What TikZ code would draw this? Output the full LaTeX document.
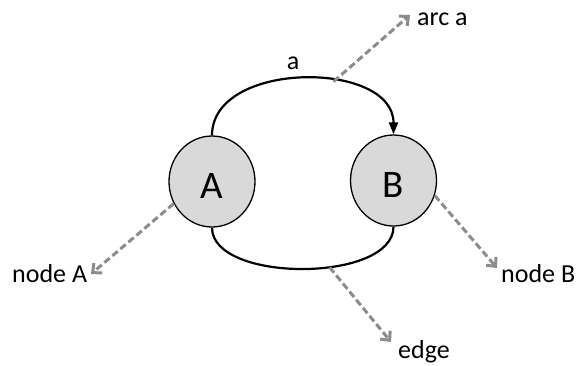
\documentclass[tikz,border=0pt]{standalone}
\usepackage{fontspec}
\setmainfont{Carlito}
\usetikzlibrary{arrows.meta,shapes.geometric}

\begin{document}
\begin{tikzpicture}[x=1pt,y=-1pt,
  vertex/.style={ellipse,draw=black,line width=1.3pt,fill=black!15,
    minimum width=86pt,minimum height=91pt,inner sep=0pt,
    text height=33pt,text depth=0pt,font=\fontsize{39}{41}\selectfont},
  lbl/.style={inner sep=0pt,anchor=base west,font=\fontsize{26}{29}\selectfont},
  link/.style={line width=2.2pt},
  pointer/.style={draw=black!45,line width=3pt,dash pattern=on 7pt off 3.5pt,
    -{Straight Barb[length=7pt,width=13pt]}}]
  \useasboundingbox (0,0) rectangle (577,365);
  % the two nodes
  \node[vertex] (A) at (212,181.5) {A};
  \node[vertex] (B) at (393.5,180.5) {B};
  % arc a and the edge
  \draw[link,-{Triangle[length=12pt,width=9pt]}] (A.north)
    .. controls (212,60) and (393.5,60) .. (B.north) coordinate[pos=0.615] (arcpt);
  \draw[link] (A.south)
    .. controls (212,283) and (393.5,283) .. (B.south) coordinate[pos=0.6] (edgept);
  \node[lbl,anchor=base] (alabel) at (293,69) {a};
  % pointers to the captions
  \coordinate (arctip) at (410,15);
  \coordinate (Atip) at (91,274);
  \coordinate (Btip) at (497,268);
  \coordinate (edgetip) at (391,342);
  \draw[pointer] (arcpt) -- (arctip);
  \draw[pointer] (A.210) -- (Atip);
  \draw[pointer] (B.-20) -- (Btip);
  \draw[pointer] (edgept) -- (edgetip);
  \node[lbl] (arccap) at (417,25) {arc a};
  \node[lbl] (Acap) at (12,282) {node A};
  \node[lbl] (Bcap) at (501,282) {node B};
  \node[lbl] (edgecap) at (398,358) {edge};
\end{tikzpicture}
\end{document}
